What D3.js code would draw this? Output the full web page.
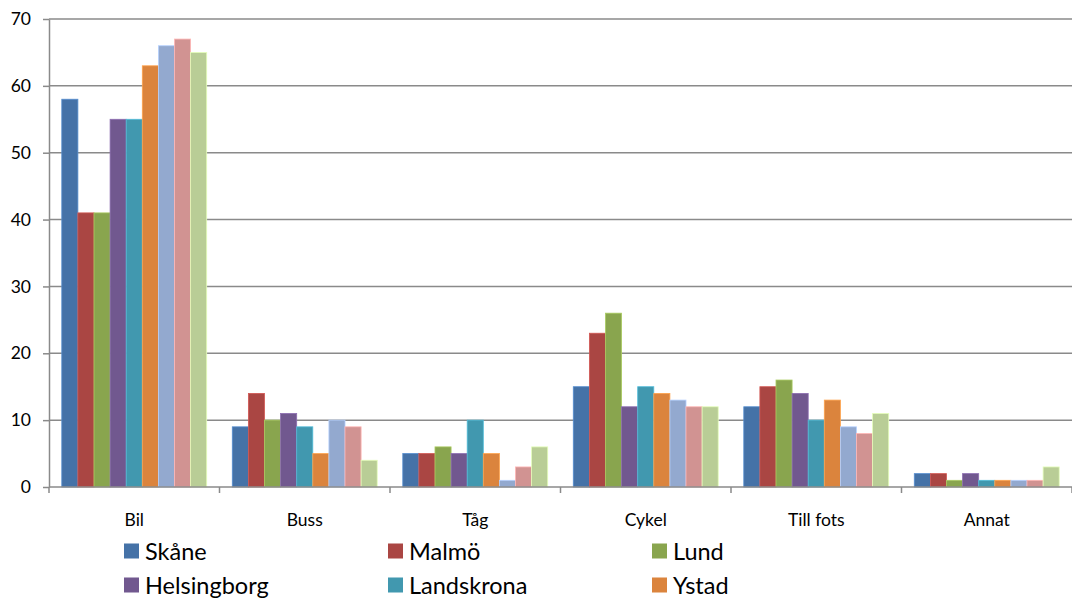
<!DOCTYPE html>
<html>
<head>
<meta charset="utf-8">
<script src="https://cdn.jsdelivr.net/npm/d3@7"></script>
<style>
  html, body { margin: 0; padding: 0; background: #fff; }
  svg { display: block; overflow: hidden; }
  text { font-family: Lato, "Open Sans", sans-serif; fill: #000; }
</style>
</head>
<body>
<svg id="chart" width="1072" height="599"></svg>
<script>
// Travel mode shares (%) per area
const categories = ["Bil", "Buss", "Tåg", "Cykel", "Till fots", "Annat"];
const legendNames = ["Skåne", "Malmö", "Lund", "Helsingborg", "Landskrona", "Ystad"];
const skane       = [58, 9, 5, 15, 12, 2];
const malmo       = [41, 14, 5, 23, 15, 2];
const lund        = [41, 10, 6, 26, 16, 1];
const helsingborg = [55, 11, 5, 12, 14, 2];
const landskrona  = [55, 9, 10, 15, 10, 1];
const ystad       = [63, 5, 5, 14, 13, 1];
const series7     = [66, 10, 1, 13, 9, 1];
const series8     = [67, 9, 3, 12, 8, 1];
const series9     = [65, 4, 6, 12, 11, 3];
const yTicks = [0, 10, 20, 30, 40, 50, 60, 70];

const seriesValues = [skane, malmo, lund, helsingborg, landskrona, ystad, series7, series8, series9];
const colors = ["#4572A7", "#AA4643", "#89A54E", "#71588F", "#4198AF", "#DB843D", "#93A9CF", "#D19392", "#B9CD96"];

const svg = d3.select("#chart");
const plot = { left: 49, right: 1072, top: 19, bottom: 487 };

const x0 = d3.scaleBand().domain(categories).range([plot.left, plot.right]).paddingInner(0).paddingOuter(0);
const groupPad = x0.bandwidth() * 0.075;
const x1 = d3.scaleBand().domain(d3.range(seriesValues.length))
  .range([groupPad, x0.bandwidth() - groupPad]).padding(0);
const y = d3.scaleLinear().domain([0, 70]).range([plot.bottom, plot.top]);

const gridColor = "#8a8a8a";

// horizontal gridlines
svg.append("g")
  .selectAll("line")
  .data(yTicks.filter(t => t > 0))
  .join("line")
  .attr("x1", plot.left).attr("x2", plot.right)
  .attr("y1", d => y(d)).attr("y2", d => y(d))
  .attr("stroke", gridColor).attr("stroke-width", 1.5);

// bars
const groups = svg.append("g")
  .selectAll("g")
  .data(categories)
  .join("g")
  .attr("transform", c => `translate(${x0(c)},0)`);

groups.selectAll("rect")
  .data((c, ci) => seriesValues.map((vals, si) => ({ si, v: vals[ci] })))
  .join("rect")
  .attr("x", d => x1(d.si))
  .attr("width", x1.bandwidth())
  .attr("y", d => y(d.v))
  .attr("height", d => y(0) - y(d.v))
  .attr("fill", d => colors[d.si])
  .attr("stroke", d => d3.color(colors[d.si]).brighter(0.6))
  .attr("stroke-width", 0.8);

// y axis
const yAxis = d3.axisLeft(y).tickValues(yTicks).tickSize(6).tickPadding(12).tickSizeOuter(0);
const gy = svg.append("g").attr("transform", `translate(${plot.left},0)`).call(yAxis);
gy.select(".domain").attr("stroke", gridColor).attr("stroke-width", 1.5);
gy.selectAll(".tick line").attr("stroke", gridColor).attr("stroke-width", 1.5);
gy.selectAll(".tick text").style("font-size", "17.5px").style("font-family", "Lato, sans-serif").attr("fill", "#000");

// x axis baseline with category boundary ticks
const gx = svg.append("g");
gx.append("line")
  .attr("x1", plot.left).attr("x2", plot.right)
  .attr("y1", y(0)).attr("y2", y(0))
  .attr("stroke", gridColor).attr("stroke-width", 1.5);
gx.selectAll("line.tk")
  .data(categories.map(c => x0(c)).concat([x0(categories[categories.length - 1]) + x0.bandwidth()]))
  .join("line")
  .attr("class", "tk")
  .attr("x1", d => d).attr("x2", d => d)
  .attr("y1", y(0)).attr("y2", y(0) + 6)
  .attr("stroke", gridColor).attr("stroke-width", 1.5);
gx.selectAll("text")
  .data(categories)
  .join("text")
  .attr("x", c => x0(c) + x0.bandwidth() / 2)
  .attr("y", 526)
  .attr("text-anchor", "middle")
  .style("font-size", "17.5px")
  .text(c => c);

// legend, three columns
const legend = svg.append("g");
const item = legend.selectAll("g")
  .data(legendNames)
  .join("g")
  .attr("transform", (d, i) => `translate(${124 + (i % 3) * 264},${551 + Math.floor(i / 3) * 34})`);
item.append("rect")
  .attr("x", 0).attr("y", -7.5)
  .attr("width", 15).attr("height", 15)
  .attr("fill", (d, i) => colors[i]);
item.append("text")
  .attr("x", 21).attr("y", 8.5)
  .style("font-size", "23.5px")
  .text(d => d);
</script>
</body>
</html>
